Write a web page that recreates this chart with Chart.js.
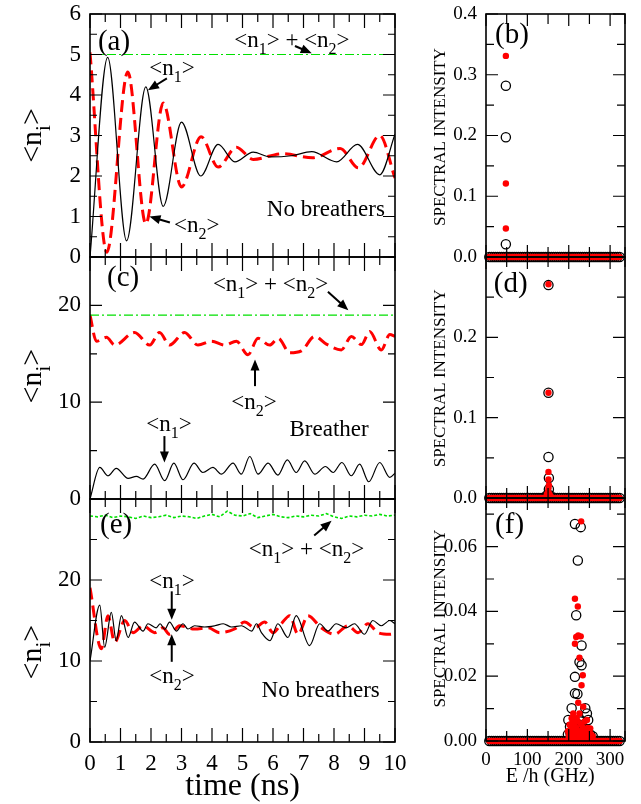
<!DOCTYPE html>
<html>
<head>
<meta charset="utf-8">
<script src="https://cdn.jsdelivr.net/npm/chart.js@4.4.1/dist/chart.umd.min.js"></script>
<style>
  html, body { margin: 0; padding: 0; background: #fff; }
  body { width: 641px; height: 804px; position: relative; overflow: hidden; }
  canvas { position: absolute; }
</style>
</head>
<body>
<canvas id="pa"></canvas>
<canvas id="pc"></canvas>
<canvas id="pe"></canvas>
<canvas id="pb"></canvas>
<canvas id="pd"></canvas>
<canvas id="pf"></canvas>
<script>
// ---- panel (a): time (ns) vs <n_i>, no breathers ----
const aTime1 = [0, 0.58, 1.2, 1.83, 2.4, 3.0, 3.63, 4.2, 4.75, 5.35, 5.9, 6.6, 7.27, 8.09, 8.77, 9.5, 10];
const aN1 = [0, 4.93, 0.4, 4.2, 1.25, 3.33, 2.0, 2.78, 2.35, 2.59, 2.47, 2.5, 2.6, 2.35, 2.78, 2.03, 3.03];
const aTime2 = [0, 0.55, 1.24, 1.83, 2.4, 3.0, 3.64, 4.2, 4.8, 5.35, 6.3, 7.3, 8.2, 8.8, 9.5, 10];
const aN2 = [5.05, 0.12, 4.57, 0.82, 3.8, 1.73, 2.97, 2.22, 2.71, 2.41, 2.55, 2.45, 2.68, 2.2, 3.0, 1.95];
const aSumTime = [0, 10];
const aSum = [5, 5];

// ---- panel (c): breather ----
const cTime1 = [0, 0.32, 0.59, 0.86, 1.25, 1.52, 1.74, 2.12, 2.45, 2.75, 3.05, 3.41, 3.7, 4.03, 4.31, 4.69, 4.96, 5.24, 5.51, 5.84, 6.16, 6.47, 6.76, 7.04, 7.37, 7.72, 7.97, 8.26, 8.57, 8.84, 9.14, 9.5, 9.83, 10];
const cN1 = [0, 3.26, 2.4, 3.16, 2.13, 2.33, 2.06, 3.6, 1.89, 3.7, 1.99, 3.7, 2.74, 3.26, 2.57, 3.7, 2.57, 4.39, 2.57, 3.7, 2.47, 4.04, 2.74, 3.94, 2.57, 3.36, 2.74, 3.77, 2.4, 3.6, 1.78, 3.77, 2.23, 2.67];
const cTime2 = [0, 0.21, 0.54, 0.81, 1.46, 1.96, 2.28, 2.61, 3.1, 3.54, 3.98, 4.42, 4.8, 5.18, 5.51, 5.89, 6.17, 6.55, 6.93, 7.37, 7.75, 8.24, 8.57, 8.9, 9.17, 9.55, 9.83, 10];
const cN2 = [19.0, 16.3, 16.7, 15.9, 17.2, 15.9, 17.2, 15.9, 17.2, 15.9, 16.3, 15.9, 16.3, 14.9, 16.6, 15.9, 16.6, 15.1, 15.3, 16.8, 16.0, 15.4, 16.8, 15.95, 17.3, 15.4, 17.0, 16.8];
const cSumTime = [0, 10];
const cSum = [19, 19];

// ---- panel (e): no breathers, higher filling ----
const eTime1 = [0, 0.32, 0.48, 0.7, 0.86, 1.03, 1.25, 1.46, 1.74, 1.9, 2.17, 2.3, 2.45, 2.61, 2.83, 3.05, 3.21, 3.43, 3.76, 4.09, 4.37, 4.64, 4.97, 5.3, 5.46, 5.62, 5.9, 6.16, 6.49, 6.76, 7.2, 7.53, 7.8, 8.07, 8.4, 8.67, 9.0, 9.27, 9.55, 9.83, 10];
const eN1 = [10.0, 16.9, 11.7, 16.0, 12.5, 15.6, 12.9, 14.8, 13.7, 14.6, 14.1, 14.6, 13.9, 14.8, 13.7, 14.6, 13.95, 14.35, 14.2, 14.35, 14.6, 14.2, 14.35, 13.7, 14.6, 13.5, 12.5, 14.6, 12.9, 15.6, 11.9, 14.6, 13.7, 14.6, 14.1, 14.6, 13.3, 15.0, 14.35, 15.0, 14.6];
const eTime2 = [0, 0.37, 0.59, 0.81, 1.14, 1.41, 1.74, 2.12, 2.39, 2.61, 2.94, 3.43, 3.87, 4.25, 4.74, 5.07, 5.4, 5.73, 6.0, 6.27, 6.55, 6.82, 7.15, 7.58, 8.02, 8.46, 8.79, 9.11, 9.44, 9.83, 10];
const eN2 = [19.05, 11.5, 15.6, 12.3, 15.0, 13.5, 14.35, 13.5, 14.1, 13.3, 14.35, 13.95, 14.1, 13.5, 13.95, 14.8, 14.1, 14.8, 13.5, 14.6, 15.6, 13.3, 15.6, 14.1, 13.3, 14.35, 13.5, 14.6, 13.5, 13.3, 13.4];
const eSumTime = [0, 0.25, 0.5, 0.75, 1, 1.25, 1.5, 1.75, 2, 2.25, 2.5, 2.75, 3, 3.25, 3.5, 3.75, 4, 4.25, 4.5, 4.75, 5, 5.25, 5.5, 5.75, 6, 6.25, 6.5, 6.75, 7, 7.25, 7.5, 7.75, 8, 8.25, 8.5, 8.75, 9, 9.25, 9.5, 9.75, 10];
const eSum = [27.9, 27.8, 28.0, 27.7, 27.9, 27.8, 27.6, 27.9, 27.7, 27.8, 28.0, 27.7, 27.9, 27.8, 27.6, 27.9, 28.1, 27.8, 28.5, 28.0, 27.9, 28.2, 27.7, 27.9, 28.1, 27.8, 27.7, 27.9, 27.8, 28.0, 27.9, 28.2, 27.8, 27.6, 27.9, 27.8, 28.0, 27.9, 28.1, 27.9, 28.0];

// ---- spectra: frequency grid where intensity is ~0 ----
const baseFreq = [8, 13, 18, 23, 28, 33, 38, 43, 48, 53, 58, 63, 68, 73, 78, 83, 88, 93, 98, 103, 108, 113, 118, 123, 128, 133, 138, 143, 148, 153, 158, 163, 168, 173, 178, 183, 188, 193, 198, 203, 208, 213, 218, 223, 228, 233, 238, 243, 248, 253, 258, 263, 268, 273, 278, 283, 288, 293, 298, 303, 308, 313, 318, 323];
const baseIntensity = [0, 0, 0, 0, 0, 0, 0, 0, 0, 0, 0, 0, 0, 0, 0, 0, 0, 0, 0, 0, 0, 0, 0, 0, 0, 0, 0, 0, 0, 0, 0, 0,
                       0, 0, 0, 0, 0, 0, 0, 0, 0, 0, 0, 0, 0, 0, 0, 0, 0, 0, 0, 0, 0, 0, 0, 0, 0, 0, 0, 0, 0, 0, 0, 0];

// panel (b)
const bBlackFreq = [48, 48, 48];
const bBlackVal = [0.282, 0.197, 0.021];
const bRedFreq = [48, 48, 48];
const bRedVal = [0.331, 0.121, 0.047];

// panel (d)
const dBlackFreq = [151, 151, 151, 152, 152, 150, 146, 156];
const dBlackVal = [0.265, 0.131, 0.051, 0.025, 0.011, 0.004, 0.003, 0.003];
const dRedFreq = [151, 151, 151, 151, 152, 151, 150, 152, 147, 149, 153, 155];
const dRedVal = [0.266, 0.131, 0.0325, 0.023, 0.016, 0.012, 0.008, 0.005, 0.004, 0.006, 0.005, 0.003];

// panel (f)
const fBlackFreq = [215, 229, 222, 218, 231, 226, 231, 215, 215, 221, 207, 240, 244, 199, 203, 226, 231, 247, 225, 228, 230, 198, 204, 210, 216, 222, 234, 240, 246, 252, 258];
const fBlackVal = [0.067, 0.066, 0.0557, 0.0388, 0.0295, 0.0244, 0.0234, 0.0198, 0.0147, 0.0145, 0.0101, 0.0101, 0.0085, 0.0065, 0.0044, 0.0065, 0.0044, 0.0065, 0.005, 0.006, 0.004, 0.002, 0.0025, 0.003, 0.0035, 0.003, 0.003, 0.0025, 0.003, 0.002, 0.0015];
const fRedFreq = [230, 215, 222, 218, 223, 229, 215, 226, 234, 231, 223, 235, 211, 226, 219, 244, 207, 252, 198, 202, 206, 210, 214, 218, 222, 226, 230, 234, 238, 242, 246, 250, 254, 258, 200, 204, 208, 212, 216, 220, 224, 228, 232, 236, 240, 244, 248, 252, 256];
const fRedVal = [0.0678, 0.0439, 0.0415, 0.0321, 0.0326, 0.0323, 0.030, 0.0257, 0.0203, 0.0172, 0.0118, 0.0106, 0.0085, 0.0085, 0.007, 0.0065, 0.007, 0.0039, 0.003, 0.005, 0.004, 0.006, 0.005, 0.004, 0.006, 0.003, 0.005, 0.004, 0.006, 0.003, 0.004, 0.003, 0.002, 0.0015, 0.0015, 0.002, 0.0015, 0.0025, 0.0015, 0.002, 0.0025, 0.0015, 0.002, 0.0025, 0.0015, 0.002, 0.0015, 0.0015, 0.001];

const SERIF = "'Liberation Serif', 'Times New Roman', serif";
const RED = '#ff0000';
const GREEN = '#00e000';
Chart.defaults.color = '#000';
Chart.defaults.font.family = SERIF;

const pts = (xs, ys) => xs.map((x, i) => ({ x: x, y: ys[i] }));
const isMult = (v, step) => Math.abs(v / step - Math.round(v / step)) < 1e-6;

// text with "_x" subscripts
function drawRich(ctx, str, x, y, size, align) {
  const parts = str.split(/(_.)/).filter(s => s.length);
  const subSize = Math.round(size * 0.7);
  const widths = parts.map(p => {
    const sub = p[0] === '_';
    ctx.font = (sub ? subSize : size) + 'px ' + SERIF;
    return ctx.measureText(sub ? p.slice(1) : p).width;
  });
  const total = widths.reduce((s, w) => s + w, 0);
  let cx = align === 'center' ? x - total / 2 : align === 'right' ? x - total : x;
  ctx.textAlign = 'left';
  ctx.textBaseline = 'alphabetic';
  parts.forEach((p, i) => {
    const sub = p[0] === '_';
    ctx.font = (sub ? subSize : size) + 'px ' + SERIF;
    ctx.fillText(sub ? p.slice(1) : p, cx, sub ? y + size * 0.3 : y);
    cx += widths[i];
  });
}

function drawArrow(ctx, x1, y1, x2, y2) {
  const ang = Math.atan2(y2 - y1, x2 - x1), L = 11, W = 4.5;
  const c = Math.cos(ang), s = Math.sin(ang);
  ctx.lineWidth = 2;
  ctx.beginPath();
  ctx.moveTo(x1, y1);
  ctx.lineTo(x2 - L * 0.8 * c, y2 - L * 0.8 * s);
  ctx.stroke();
  ctx.beginPath();
  ctx.moveTo(x2, y2);
  ctx.lineTo(x2 - L * c + W * s, y2 - L * s - W * c);
  ctx.lineTo(x2 - L * c - W * s, y2 - L * s + W * c);
  ctx.closePath();
  ctx.fill();
}

// frame with inward ticks on all sides + text notes and arrows
function decor(cfg) {
  return {
    id: 'decor',
    afterDatasetsDraw(chart) {
      const { ctx, chartArea: a, scales: { x, y } } = chart;
      ctx.save();
      ctx.strokeStyle = '#000';
      ctx.lineWidth = 1.2;
      ctx.beginPath();
      x.ticks.forEach(t => {
        const p = x.getPixelForValue(t.value);
        const len = isMult(t.value, cfg.xMajor) ? cfg.xLen[0] : cfg.xLen[1];
        ctx.moveTo(p, a.bottom); ctx.lineTo(p, a.bottom - len);
        ctx.moveTo(p, a.top); ctx.lineTo(p, a.top + len);
      });
      y.ticks.forEach(t => {
        const p = y.getPixelForValue(t.value);
        const len = isMult(t.value, cfg.yMajor) ? cfg.yLen[0] : cfg.yLen[1];
        ctx.moveTo(a.left, p); ctx.lineTo(a.left + len, p);
        ctx.moveTo(a.right, p); ctx.lineTo(a.right - len, p);
      });
      ctx.stroke();
      ctx.lineWidth = 1.6;
      ctx.strokeRect(a.left, a.top, a.right - a.left, a.bottom - a.top);
      ctx.restore();
    },
    afterDraw(chart) {
      const { ctx, scales: { x, y } } = chart;
      ctx.save();
      ctx.fillStyle = '#000';
      ctx.strokeStyle = '#000';
      cfg.notes.forEach(n => {
        if (n.arrow) {
          const [x1, y1, x2, y2] = n.arrow;
          drawArrow(ctx, x.getPixelForValue(x1), y.getPixelForValue(y1), x.getPixelForValue(x2), y.getPixelForValue(y2));
          return;
        }
        const px = x.getPixelForValue(n.x), py = y.getPixelForValue(n.y);
        if (n.rot) {
          ctx.save();
          ctx.translate(px, py);
          ctx.rotate(-Math.PI / 2);
          drawRich(ctx, n.text, 0, 0, n.size, 'center');
          ctx.restore();
        } else {
          drawRich(ctx, n.text, px, py, n.size, n.align || 'left');
        }
      });
      ctx.restore();
    }
  };
}

// area = wanted plot rectangle in page pixels; the canvas is larger so
// tick-label padding never pushes the plot rectangle around
function panel(id, col, area, bottomEdge, xs, ys, datasets, cfg, type) {
  const M = 30;
  const box = { l: col.l, w: col.w, t: area.t - M, h: (bottomEdge || area.b + M) - (area.t - M) };
  const cv = document.getElementById(id);
  cv.width = box.w; cv.height = box.h;
  cv.style.left = box.l + 'px'; cv.style.top = box.t + 'px';
  new Chart(cv, {
    type: type,
    data: { datasets: datasets },
    options: {
      responsive: false,
      animation: false,
      events: [],
      layout: { padding: { top: area.t - box.t, right: box.l + box.w - area.r, left: 0, bottom: 0 } },
      plugins: { legend: { display: false }, tooltip: { enabled: false } },
      scales: {
        x: {
          type: 'linear', min: xs.min, max: xs.max, bounds: 'data',
          afterFit: s => { s.height = box.t + box.h - area.b; },
          grid: { display: false, drawTicks: false },
          border: { display: false },
          ticks: {
            display: xs.show, stepSize: xs.step, includeBounds: false, autoSkip: false,
            maxRotation: 0, padding: 8, font: { size: xs.font }, color: '#000',
            callback: v => xs.label(v)
          }
        },
        y: {
          type: 'linear', min: ys.min, max: ys.max, bounds: 'data',
          afterFit: s => { s.width = area.l - box.l; },
          grid: { display: false, drawTicks: false },
          border: { display: false },
          ticks: {
            stepSize: ys.step, includeBounds: false, autoSkip: false,
            padding: 9, font: { size: ys.font }, color: '#000',
            callback: v => ys.label(v)
          }
        }
      }
    },
    plugins: [decor(cfg)]
  });
}

// time-series axes
const leftX = (show) => ({ min: 0, max: 10, step: 0.5, show: show, font: 23,
  label: v => isMult(v, 1) ? String(Math.round(v)) : '' });
const rightX = (show) => ({ min: 0, max: 336, step: 50, show: show, font: 19,
  label: v => isMult(v, 100) ? String(Math.round(v)) : '' });

function lineSets(t1, n1, t2, n2, ts, s, sumDash, sumWidth) {
  return [
    { data: pts(ts, s), borderColor: GREEN, borderWidth: sumWidth, borderDash: sumDash, pointRadius: 0, order: 0 },
    { data: pts(t1, n1), borderColor: '#000', borderWidth: 1.2, pointRadius: 0, cubicInterpolationMode: 'monotone', order: 1 },
    { data: pts(t2, n2), borderColor: RED, borderWidth: 3, borderDash: [12, 6], pointRadius: 0, cubicInterpolationMode: 'monotone', order: 2 }
  ];
}

function scatterSets(bf, bv, rf, rv) {
  return [
    { data: pts(baseFreq.concat(rf), baseIntensity.concat(rv)), showLine: false, pointRadius: 3.2,
      pointBackgroundColor: RED, pointBorderColor: RED, pointBorderWidth: 0, clip: false, order: 0 },
    { data: pts(baseFreq.concat(bf), baseIntensity.concat(bv)), showLine: false, pointRadius: 4.6,
      pointBackgroundColor: 'rgba(0,0,0,0)', pointBorderColor: '#000', pointBorderWidth: 1.3, clip: false, order: 1 }
  ];
}

const LEFT = { l: 0, w: 420 };
const RIGHT = { l: 420, w: 221 };
const leftTicks = { xMajor: 1, xLen: [14, 8], yLen: [12, 7] };
const rightTicks = { xMajor: 100, xLen: [12, 10], yLen: [12, 8] };
const NOTE = 23;

// (a)
panel('pa', LEFT, { l: 90, t: 14, r: 395, b: 257 }, 0,
  leftX(false),
  { min: 0, max: 6, step: 0.5, font: 23, label: v => isMult(v, 1) ? String(Math.round(v)) : '' },
  lineSets(aTime1, aN1, aTime2, aN2, aSumTime, aSum, [9, 3, 2, 3], 1.2),
  Object.assign({ yMajor: 1, notes: [
    { text: '(a)', x: 0.26, y: 5.1, size: 29 },
    { text: '<n_1> + <n_2>', x: 6.62, y: 5.19, size: NOTE, align: 'center' },
    { arrow: [6.72, 5.21, 7.27, 5.03] },
    { text: '<n_1>', x: 2.69, y: 4.49, size: NOTE, align: 'center' },
    { arrow: [2.52, 4.41, 1.9, 4.12] },
    { text: '<n_2>', x: 3.5, y: 0.62, size: NOTE, align: 'center' },
    { arrow: [2.62, 0.85, 1.95, 1.0] },
    { text: 'No breathers', x: 9.67, y: 1.02, size: NOTE, align: 'right' },
    { text: '<n_i>', x: -1.6, y: 3.0, size: 30, rot: true }
  ] }, leftTicks), 'line');

// (c)
panel('pc', LEFT, { l: 90, t: 257, r: 395, b: 499 }, 0,
  leftX(false),
  { min: 0, max: 25, step: 5, font: 23, label: v => (isMult(v, 10) && v < 25) ? String(Math.round(v)) : '' },
  lineSets(cTime1, cN1, cTime2, cN2, cSumTime, cSum, [9, 3, 2, 3], 1.2),
  Object.assign({ yMajor: 10, notes: [
    { text: '(c)', x: 0.56, y: 22.0, size: 29 },
    { text: '<n_1> + <n_2>', x: 5.92, y: 21.5, size: NOTE, align: 'center' },
    { arrow: [7.8, 21.4, 8.47, 19.5] },
    { text: '<n_2>', x: 5.38, y: 9.26, size: NOTE, align: 'center' },
    { arrow: [5.41, 11.66, 5.41, 14.4] },
    { text: '<n_1>', x: 2.59, y: 7.0, size: NOTE, align: 'center' },
    { arrow: [2.44, 6.5, 2.44, 3.77] },
    { text: 'Breather', x: 7.84, y: 6.5, size: NOTE, align: 'center' },
    { text: '<n_i>', x: -1.6, y: 12.7, size: 30, rot: true }
  ] }, leftTicks), 'line');

// (e)
panel('pe', LEFT, { l: 90, t: 499, r: 395, b: 742 }, 804,
  leftX(true),
  { min: 0, max: 30, step: 5, font: 23, label: v => (isMult(v, 10) && v < 30) ? String(Math.round(v)) : '' },
  lineSets(eTime1, eN1, eTime2, eN2, eSumTime, eSum, [3, 2], 1.6),
  Object.assign({ yMajor: 10, notes: [
    { text: '(e)', x: 0.33, y: 25.8, size: 29 },
    { text: '<n_1> + <n_2>', x: 7.1, y: 23.0, size: NOTE, align: 'center' },
    { arrow: [7.35, 25.5, 7.92, 27.3] },
    { text: '<n_1>', x: 2.69, y: 19.0, size: NOTE, align: 'center' },
    { arrow: [2.68, 18.6, 2.68, 15.1] },
    { text: '<n_2>', x: 2.69, y: 7.3, size: NOTE, align: 'center' },
    { arrow: [2.68, 9.9, 2.68, 13.3] },
    { text: 'No breathers', x: 9.5, y: 5.5, size: NOTE, align: 'right' },
    { text: 'time (ns)', x: 5, y: -6.6, size: 32, align: 'center' },
    { text: '<n_i>', x: -1.6, y: 11.1, size: 30, rot: true }
  ] }, leftTicks), 'line');

// (b)
panel('pb', RIGHT, { l: 486, t: 14, r: 625, b: 257 }, 0,
  rightX(false),
  { min: 0, max: 0.4, step: 0.05, font: 19, label: v => isMult(v, 0.1) ? v.toFixed(1) : '' },
  scatterSets(bBlackFreq, bBlackVal, bRedFreq, bRedVal),
  Object.assign({ yMajor: 0.1, notes: [
    { text: '(b)', x: 22, y: 0.352, size: 29 },
    { text: 'SPECTRAL INTENSITY', x: -99, y: 0.1975, size: 17, rot: true }
  ] }, rightTicks), 'scatter');

// (d)
panel('pd', RIGHT, { l: 486, t: 257, r: 625, b: 498 }, 0,
  rightX(false),
  { min: 0, max: 0.3, step: 0.05, font: 19, label: v => (isMult(v, 0.1) && v < 0.29) ? v.toFixed(1) : '' },
  scatterSets(dBlackFreq, dBlackVal, dRedFreq, dRedVal),
  Object.assign({ yMajor: 0.1, notes: [
    { text: '(d)', x: 19, y: 0.256, size: 29 },
    { text: 'SPECTRAL INTENSITY', x: -99, y: 0.149, size: 17, rot: true }
  ] }, rightTicks), 'scatter');

// (f)
panel('pf', RIGHT, { l: 486, t: 498, r: 625, b: 741 }, 804,
  rightX(true),
  { min: 0, max: 0.075, step: 0.01, font: 19, label: v => isMult(v, 0.02) ? v.toFixed(2) : '' },
  scatterSets(fBlackFreq, fBlackVal, fRedFreq, fRedVal),
  Object.assign({ yMajor: 0.02, notes: [
    { text: '(f)', x: 22, y: 0.0643, size: 29 },
    { text: 'E /h (GHz)', x: 155, y: -0.0126, size: 20, align: 'center' },
    { text: 'SPECTRAL INTENSITY', x: -99, y: 0.0378, size: 17, rot: true }
  ] }, rightTicks), 'scatter');
</script>
</body>
</html>
